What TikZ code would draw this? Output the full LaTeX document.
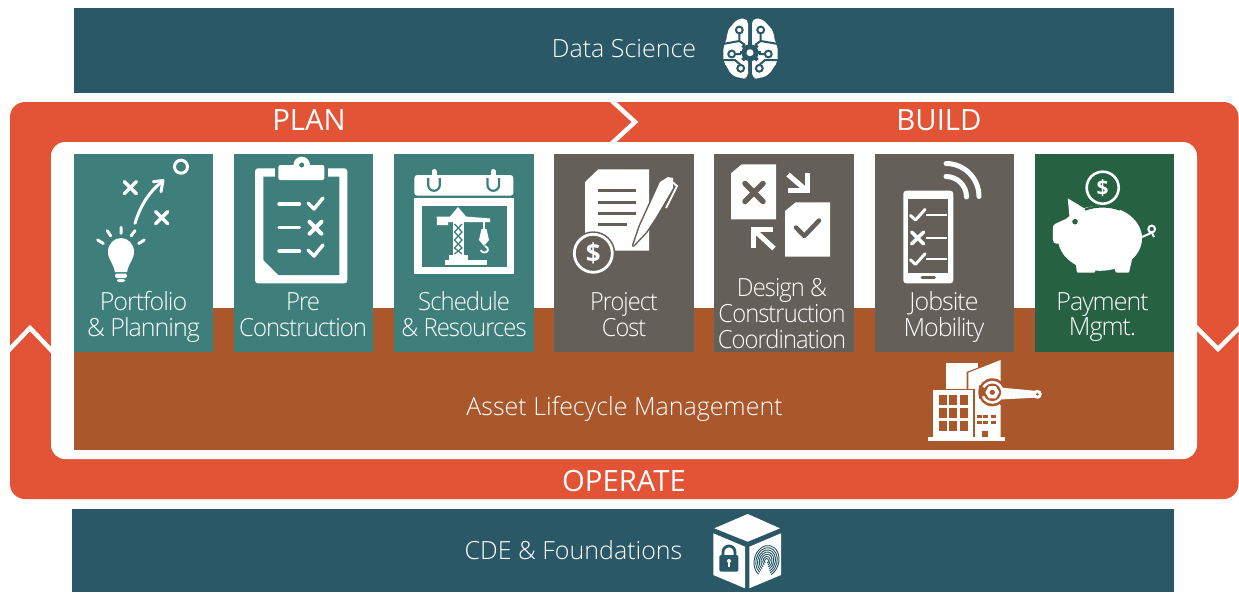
\documentclass[tikz,border=0pt]{standalone}
\usepackage{fontspec}
\setmainfont{Open Sans}
\newfontfamily\lightf[LetterSpace=-4]{Open Sans Light}
\newfontfamily\lightw{Open Sans Light}
\usetikzlibrary{shapes.geometric}
\definecolor{barc}{HTML}{2A5866}
\definecolor{orangec}{HTML}{E35336}
\definecolor{brownc}{HTML}{A9572B}
\definecolor{tealc}{HTML}{3F7F7B}
\definecolor{grayc}{HTML}{645F58}
\definecolor{greenc}{HTML}{266141}
\newcommand{\sq}[2]{\scalebox{#1}[1]{\begin{tabular}{@{}c@{}}#2\end{tabular}}}
\tikzset{
  bx/.style={inner sep=0pt,outer sep=0pt,draw=none},
  tile/.style={bx,minimum width=139.5pt,minimum height=198pt},
  tlabel/.style={text=white,align=center,font=\lightf\fontsize{25}{25.5}\selectfont,inner sep=0pt},
  wlabel/.style={text=white,font=\lightw\fontsize{25}{30}\selectfont,inner sep=0pt},
  hlabel/.style={text=white,font=\fontsize{29.3}{32}\selectfont,inner sep=0pt},
  ic/.style={line width=#1,draw=white,line cap=round,line join=round},
  ic/.default=3.5pt,
  chev/.style={draw=white,line width=4.5pt,miter limit=10}
}
\newcommand{\crossm}[4]{\draw[ic=#4,draw=#3] (#1-6,#2-6) -- (#1+6,#2+6) (#1-6,#2+6) -- (#1+6,#2-6);}
\newcommand{\checkm}[3]{\draw[ic=3.5pt,draw=#3] (#1-6,#2-1) -- (#1,#2+5) -- (#1+9,#2-6);}
\begin{document}
\begin{tikzpicture}[x=1pt,y=-1pt]
\useasboundingbox (0,0) rectangle (1239,592);
\fill[white] (0,0) rectangle (1239,592);
% bars
\node[bx,fill=barc,minimum width=1100pt,minimum height=85pt] (top) at (624,50.5) {};
\node[bx,fill=barc,minimum width=1102pt,minimum height=83pt] (bottom) at (623,550.5) {};
% ring
\fill[orangec,rounded corners=15pt] (10,102) rectangle (1238.5,499);
\fill[white,rounded corners=14pt] (51,142) rectangle (1197,459);
\node[bx,fill=brownc,minimum width=1100pt,minimum height=142pt] (alm) at (624,379) {};
% chevrons
\draw[chev] (610,99) -- (635,122) -- (610,145);
\draw[chev] (8,351) -- (30,328) -- (53,352);
\draw[chev] (1195,326) -- (1218,349) -- (1241,326);
% tiles
\node[tile,fill=tealc] (t1) at (143.5,253) {};
\node[tile,fill=tealc] (t2) at (303.5,253) {};
\node[tile,fill=tealc] (t3) at (464,253) {};
\node[tile,fill=grayc] (t4) at (624,253) {};
\node[tile,fill=grayc] (t5) at (784,253) {};
\node[tile,fill=grayc] (t6) at (944.5,253) {};
\node[tile,fill=greenc] (t7) at (1104.5,253) {};
% labels
\node[wlabel] (ds) at (624,49) {Data Science};
\node[wlabel] (cde) at (573.5,550) {CDE \& Foundations};
\node[wlabel] (almt) at (624.5,409) {Asset Lifecycle Management};
\node[hlabel] (plan) at (309,120) {PLAN};
\node[hlabel] (build) at (939,120) {BUILD};
\node[hlabel] (operate) at (624,481.5) {OPERATE};
\node[tlabel] (l1) at (143.5,317) {Portfolio\\\& Planning};
\node[tlabel] (l2) at (303,318.5) {\sq{.955}{Pre\\Construction}};
\node[tlabel] (l3) at (464,317.5) {\sq{.955}{Schedule\\\& Resources}};
\node[tlabel] (l4) at (624,318.5) {\sq{.94}{Project\\Cost}};
\node[tlabel] (l5) at (782,317.5) {\sq{.95}{Design \&\\Construction\\Coordination}};
\node[tlabel] (l6) at (944,317) {Jobsite\\Mobility};
\node[tlabel] (l7) at (1102.5,317) {Payment\\Mgmt.};
% --- icon 1 portfolio
\draw[white,line width=3pt] (181,166.7) circle[radius=6.5];
\crossm{130.3}{187.7}{white}{3.5pt}
\crossm{161.7}{217.7}{white}{3.5pt}
\draw[ic=3pt] (135,223.3) .. controls (140,207) and (148,193) .. (161,182.5);
\draw[ic=3pt] (153.3,181.7) -- (163,180.5) -- (161,191.7);
\fill[white] (115,272) .. controls (113,262) and (108,260) .. (108,251.5) .. controls (108,244) and (114,238) .. (121,238) .. controls (128,238) and (134,244) .. (134,251.5) .. controls (134,260) and (129,262) .. (127,272) -- cycle;
\fill[white,rounded corners=2pt] (115,273.5) rectangle (127,278);
\fill[white,rounded corners=2pt] (117,279) rectangle (125,282);
\draw[ic=3pt] (121,227.3) -- (121,233.3) (107.3,230.7) -- (110.7,236) (135,230.7) -- (131,236) (97.7,240) -- (103.3,243.5) (144.3,240) -- (138.7,243.5);
% --- icon 2 clipboard
\fill[white,rounded corners=3pt] (255,168.3) rectangle (347.3,283.3);
\fill[tealc] (263.3,176.7) -- (339.3,176.7) -- (339.3,275) -- (278.3,275) -- (263.3,260) -- cycle;
\fill[tealc] (275,166) rectangle (328,177);
\fill[white,rounded corners=2pt] (278.3,180) -- (278.3,165) -- (324.3,165) -- (324.3,180) -- cycle;
\fill[white] (301.7,165) circle[radius=8.3];
\fill[tealc] (301.7,165) circle[radius=2.5];
\draw[ic=3.5pt] (279,204) -- (299.5,204) (279,227.7) -- (299.5,227.7) (279,251) -- (299.5,251);
\checkm{314}{204}{white}
\crossm{315.5}{227.7}{white}{4pt}
\checkm{314}{251}{white}
% --- icon 3 calendar
\fill[white,rounded corners=3pt] (414.3,195.7) -- (414.3,175) -- (513.3,175) -- (513.3,195.7) -- cycle;
\fill[white] (414.3,198.3) rectangle (514,274);
\fill[tealc] (421.7,205.7) rectangle (506.7,266.7);
\foreach \xx in {434,493.3}{
  \draw[tealc,line width=2.2pt] (\xx-5.8,178) -- (\xx-5.8,185) arc[start angle=180,end angle=0,radius=5.8] -- (\xx+5.8,178);
  \draw[white,line width=5pt,line cap=round] (\xx,171.5) -- (\xx,183.5);
}
\fill[white] (445,259.5) rectangle (486.7,265);
\fill[white] (449,255) rectangle (467.5,259.5);
\fill[white] (452.5,217) rectangle (464,255);
\draw[tealc,line width=1.3pt] (454.5,224) -- (462,232) -- (454.5,240) -- (462,248) -- (454.5,254) (462,224) -- (454.5,232) -- (462,240) -- (454.5,248) -- (462,254);
\fill[white] (436.7,216.5) -- (450,216.5) -- (458,207) -- (466,216.5) -- (490,218.5) -- (490,222) -- (448,222) -- (448,225) -- (437,225) -- cycle;
\draw[white,line width=1.6pt] (484,221) -- (484,230);
\fill[white] (481.5,229) -- (486.5,229) -- (489,240) -- (484,246) -- (479,240) -- cycle;
\draw[white,line width=1.8pt] (485,246) .. controls (490,248) and (488,253) .. (484,252.5) .. controls (482,252.5) and (481,251) .. (481,250);
% --- icon 4 project cost
\fill[white] (598.3,169.3) -- (649,169.3) -- (649,250.7) -- (585,250.7) -- (585,182) -- cycle;
\draw[grayc,line width=3pt] (598.3,190.7) -- (635.7,190.7) (598.3,202) -- (635.7,202) (598.3,213.3) -- (635.7,213.3) (598.3,224.7) -- (627.3,224.7);
\draw[grayc,line width=3pt,line join=round] (633.3,245.5) -- (640,226) -- (660,182) -- (668,177) -- (673,178) -- (673,188) -- (656,217) -- (646,232) -- cycle;
\fill[white] (633.3,245.5) -- (640,226) -- (660,182) -- (668,177) -- (673,178) -- (673,188) -- (656,217) -- (646,232) -- cycle;
\draw[white,line width=1.8pt] (670,180) -- (677,186) -- (666,208);
\fill[grayc] (593.3,253.3) circle[radius=22];
\draw[white,line width=2.8pt] (593.3,253.3) circle[radius=19];
\node[text=white,inner sep=0pt,font=\bfseries\fontsize{26}{26}\selectfont] (d1) at (593.3,253.3) {\$};
% --- icon 5 design
\fill[white] (741.7,164.3) -- (776,164.3) -- (776,219.3) -- (731,219.3) -- (731,173.3) -- cycle;
\draw[ic=5.5pt,draw=grayc] (745,183.5) -- (763,201.5) (745,201.5) -- (763,183.5);
\fill[white] (795.7,202.3) -- (830,202.3) -- (830,256.7) -- (785,256.7) -- (785,211) -- cycle;
\draw[grayc,line width=4.5pt,line cap=round,line join=round] (796,227.5) -- (804.3,236) -- (819,220.5);
\draw[white,line width=5pt] (807.6,173.3) -- (807.6,190.8) -- (788.3,190.8);
\draw[white,line width=5pt] (788,174.5) -- (806,190);
\draw[white,line width=5pt] (753.5,248.3) -- (753.5,229.8) -- (773,229.8);
\draw[white,line width=5pt] (754.5,230.5) -- (774,248.5);
% --- icon 6 jobsite
\fill[white,rounded corners=3pt] (903.3,190.7) rectangle (953.3,283.3);
\fill[grayc] (908.3,199.3) rectangle (948.3,272.7);
\draw[grayc,line width=2.6pt,line cap=round] (922,277.5) -- (934.5,277.5);
\foreach \yy in {0,44.3}{
  \draw[ic=3pt,yshift=\yy*-1pt] (910.5,215.5) -- (915.5,220) -- (925,209.5);
  \draw[ic=2.2pt,line cap=butt,yshift=\yy*-1pt] (926,215) -- (947,215);
}
\crossm{917.7}{238}{white}{3.5pt}
\draw[ic=2.2pt,line cap=butt] (926,238) -- (947,238);
\draw[ic=5pt] (946,163.5) arc[start angle=-90,end angle=0,radius=33];
\draw[ic=5pt] (946,176.5) arc[start angle=-90,end angle=0,radius=20.5];
% --- icon 7 piggy
\draw[white,line width=2.6pt] (1102.7,187.7) circle[radius=16];
\node[text=white,inner sep=0pt,font=\bfseries\fontsize{21}{21}\selectfont] (d2) at (1102.7,187.7) {\$};
\fill[white] (1100,238.3) ellipse[x radius=42,y radius=32.5];
\fill[white,rounded corners=3pt] (1052.7,225) -- (1070,217) -- (1075,245) -- (1053,243.3) -- cycle;
\fill[white] (1067.7,198.3) -- (1087,210) -- (1070,222) -- cycle;
\fill[white,rounded corners=1pt] (1074,252) -- (1077,272.7) -- (1095,272.7) -- (1096,262) -- cycle;
\fill[white,rounded corners=1pt] (1112,262) -- (1116,272.7) -- (1129,272.7) -- (1133,255) -- cycle;
\fill[greenc] (1075,221.7) circle[radius=2.8];
\draw[greenc,line width=2.2pt,line cap=round] (1085.5,209.5) .. controls (1095,205.5) and (1110,205.5) .. (1119.5,209.5);
\draw[white,line width=2pt] (1142,237) -- (1151,233) (1151.7,229) circle[radius=3.4];
\draw[white,line width=2pt] (1152,233) -- (1154,237);
% --- brain
\fill[white,rounded corners=5pt] (748,18.5) -- (738,18.5) -- (731,26) -- (727,32) -- (727,40) -- (723.3,46) -- (723.3,62) -- (728,68) -- (731,75) -- (741,78.5) -- (748,78.5) -- cycle;
\fill[white,rounded corners=5pt] (752,18.5) -- (762,18.5) -- (769,26) -- (774,32) -- (774,40) -- (777.7,46) -- (777.7,62) -- (773,68) -- (769,75) -- (759,78.5) -- (752,78.5) -- cycle;
\draw[barc,line width=2pt] (739.3,33) -- (739.3,41) -- (745,45) (739.3,41) -- (723,44) (735,54) -- (741,54) (722,60) -- (735,60) -- (740.7,65) (760.7,33) -- (760.7,41) -- (755,45) (760.7,41) -- (778,44) (765,54) -- (759,54) (778,60) -- (765,60) -- (759.3,65);
\foreach \cx/\cy in {739.3/30,760.7/30,731.7/54,768.3/54,740.7/68.3,759.3/68.3}{
  \draw[barc,line width=2pt,fill=white] (\cx,\cy) circle[radius=3.4];
}
\foreach \a in {0,45,...,315}{
  \draw[barc,line width=3.5pt] (750,52.7) -- ++(\a:10.5);
}
\fill[barc] (750,52.7) circle[radius=8.5];
\fill[white] (750,52.7) circle[radius=3.5];
% --- building
\fill[white] (928.3,437) rectangle (1005,441);
\fill[white] (946,363.3) rectangle (978.3,390);
\fill[brownc] (966.5,372) -- (1000.7,359) -- (1000.7,370) -- (980,392) -- (966.5,392) -- cycle;
\fill[white] (968.3,372.7) -- (1000.7,360) -- (1000.7,437.3) -- (968.3,437.3) -- cycle;
\fill[brownc] (931.5,388.5) rectangle (975,437.3);
\fill[white] (933.3,390) rectangle (973.3,437.3);
\foreach \xa in {938.7,949.3,960}{
  \foreach \ya/\yb in {395.3/405,407.7/418.3,420.7/431}{
    \fill[brownc] (\xa,\ya) rectangle (\xa+8,\yb);
  }
}
\foreach \xa in {976.7,983.3,990.7}{
  \foreach \ya in {415,420.7}{
    \fill[brownc] (\xa,\ya) rectangle (\xa+5,\ya+3.4);
  }
}
\fill[brownc] (981.7,431) rectangle (988.3,437.3);
\fill[brownc] (992.3,392.3) circle[radius=14];
\fill[brownc] (1000,385) -- (1033,388) -- (1033,402) -- (1000,405) -- cycle;
\fill[white] (992.3,392.3) circle[radius=11.5];
\fill[white] (1000,387.5) -- (1037.3,391) -- (1037.3,397.6) -- (1000,399.5) -- cycle;
\fill[white] (1037.3,394.3) circle[radius=4.5];
\fill[brownc] (1037.3,394.3) circle[radius=1.5];
\fill[brownc] (992.3,392.3) circle[radius=8.8];
\fill[brownc] (979,385) -- (990,391) -- (979,399) -- cycle;
\node[regular polygon,regular polygon sides=6,fill=white,minimum size=14pt,inner sep=0pt] (nut) at (992.3,392.3) {};
\fill[brownc] (992.3,392.3) circle[radius=2.6];
% --- cube
\fill[white] (747.7,514) -- (780,528.3) -- (747.7,541.7) -- (714.3,528.3) -- cycle;
\fill[white] (713.3,533.3) -- (745,546.7) -- (745,588.3) -- (713.3,575) -- cycle;
\fill[white] (781,533.3) -- (749.3,546.7) -- (749.3,588.3) -- (781,575) -- cycle;
\draw[barc,line width=2.8pt] (723,556) -- (723,552) arc[start angle=180,end angle=360,radius=6] -- (735,556);
\fill[barc,rounded corners=1.5pt] (719.3,555) rectangle (738.3,571.7);
\fill[white] (729,561) circle[radius=2];
\fill[white] (728,561) rectangle (730,566.5);
\begin{scope}[rotate around={-15:(766.5,561)}]
\foreach \r in {2.5,4.7,6.9,9.1,11.3,13.5,15.7}{
  \draw[barc,line width=.95pt] (766.5,561) ++(110:{\r*.78} and \r) arc[start angle=110,delta angle=300,x radius=\r*.78,y radius=\r];
}
\end{scope}
\end{tikzpicture}
\end{document}
